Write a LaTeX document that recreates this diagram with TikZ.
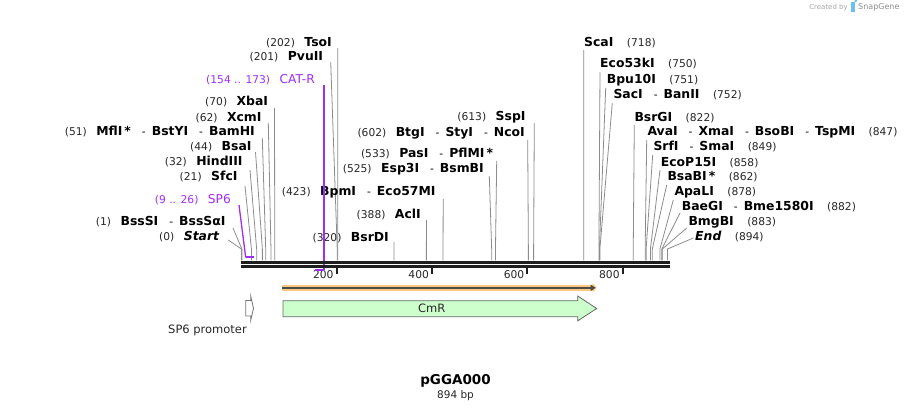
\documentclass[tikz,border=0pt]{standalone}
\usepackage{fontspec}
\setmainfont{DejaVu Sans}
\usetikzlibrary{arrows.meta}
\definecolor{primer}{RGB}{160,45,245}
\definecolor{cutgray}{RGB}{140,140,140}
\definecolor{axisblk}{RGB}{30,30,30}
\definecolor{cmrgreen}{RGB}{204,255,204}
\definecolor{orfband}{RGB}{252,200,125}
\definecolor{snapblue}{RGB}{110,190,240}
\newcommand\myNum{\fontsize{10.7}{12}\selectfont\mdseries\upshape}
\newcommand\myName{\fontsize{12.4}{14}\selectfont\bfseries}
\newcommand\msep{\hspace{11pt}{\myNum -}\hspace{6pt}}
\tikzset{
  declare function={bx(\b)=241.4+0.4767*\b;},
  lbl/.style={inner sep=0pt, text=black},
  cutline/.style={draw=cutgray, line width=0.8pt},
  primerline/.style={draw=primer, line width=1.3pt},
  axisline/.style={draw=axisblk, line width=3pt},
  tickmark/.style={draw=axisblk, line width=2pt},
}
% left-hand label: id, text right x, text centre y, number, names, line top x, line top y, bp
\newcommand\cutL[8]{%
  \node[lbl, anchor=base east] (#1) at (#2,#3+4.3) {{\myNum\color{black!85}(#4)}\hspace{9.5pt}{\myName #5}};
  \coordinate (#1-t) at (#6,#7);
  \coordinate (#1-b) at ({bx(#8)},249);
  \coordinate (#1-a) at ({bx(#8)},260.5);
  \draw[cutline] (#1-t) -- (#1-b) -- (#1-a);
}
% right-hand label
\newcommand\cutR[8]{%
  \node[lbl, anchor=base west] (#1) at (#2,#3+4.3) {{\myName #5}\hspace{13.5pt}{\myNum\color{black!85}(#4)}};
  \coordinate (#1-t) at (#6,#7);
  \coordinate (#1-b) at ({bx(#8)},249);
  \coordinate (#1-a) at ({bx(#8)},260.5);
  \draw[cutline] (#1-t) -- (#1-b) -- (#1-a);
}
\begin{document}
\begin{tikzpicture}[x=1pt,y=-1pt]
\useasboundingbox (0,0) rectangle (911,411);

% ---- cut sites, left side ----
\cutL{tso}{332}{42}{202}{TsoI}{337.7}{48}{202}
\cutL{pvu}{323.3}{56.7}{201}{PvuII}{330.7}{62}{201}
\cutL{xba}{268.3}{101.7}{70}{XbaI}{274.5}{108}{70}
\cutL{xcm}{261.7}{117.3}{62}{XcmI}{268.3}{123}{62}
\cutL{mfl}{255}{131.7}{51}{MflI\,*\msep BstYI\msep BamHI}{262.3}{138}{51}
\cutL{bsa}{251.7}{146.7}{44}{BsaI}{255.5}{152}{44}
\cutL{hind}{242.7}{161.7}{32}{HindIII}{250}{170}{32}
\cutL{sfc}{237.7}{176.7}{21}{SfcI}{245}{186}{21}
\cutL{bss}{225.7}{221}{1}{BssSI\msep BssSαI}{233}{228}{1}
\cutL{start}{219.3}{236.7}{0}{\itshape Start}{228.3}{240}{0}

% ---- cut sites, middle ----
\cutL{bsrd}{389}{237}{320}{BsrDI}{394}{242}{320}
\cutL{acl}{421}{214}{388}{AclI}{426.5}{220}{388}
\cutL{bpm}{435.7}{191.7}{423}{BpmI\msep Eco57MI}{443.2}{199}{423}
\cutL{esp}{484}{168.3}{525}{Esp3I\msep BsmBI}{489.3}{176}{525}
\cutL{pas}{493.3}{153.3}{533}{PasI\msep PflMI\,*}{496.7}{161}{533}
\cutL{btg}{525}{132.3}{602}{BtgI\msep StyI\msep NcoI}{527.7}{140}{602}
\cutL{ssp}{525.7}{116.7}{613}{SspI}{534.3}{123}{613}

% ---- cut sites, right side ----
\cutR{sca}{584}{42.3}{718}{ScaI}{583.7}{50}{718}
\cutR{ecofk}{600}{63.3}{750}{Eco53kI}{600}{72}{750}
\cutR{bpu}{606.7}{79}{751}{Bpu10I}{605.7}{88}{751}
\cutR{sac}{613.3}{94}{752}{SacI\msep BanII}{612.3}{103}{752}
\cutR{bsrg}{634.3}{117.3}{822}{BsrGI}{634.3}{125}{822}
\cutR{ava}{647.3}{131.7}{847}{AvaI\msep XmaI\msep BsoBI\msep TspMI}{646.7}{140}{847}
\cutR{srf}{653.3}{146.7}{849}{SrfI\msep SmaI}{652.7}{155}{849}
\cutR{ecop}{660.7}{162.3}{858}{EcoP15I}{660}{170}{858}
\cutR{bsab}{667.3}{176.7}{862}{BsaBI\,*}{666.7}{185}{862}
\cutR{apa}{674.3}{191.7}{878}{ApaLI}{673.3}{200}{878}
\cutR{bae}{681.7}{206.7}{882}{BaeGI\msep Bme1580I}{680}{213}{882}
\cutR{bmg}{688.3}{221.7}{883}{BmgBI}{686.7}{228}{883}
\cutR{endl}{695}{236.7}{894}{\itshape End}{693.3}{238}{894}

% ---- primers ----
\node[lbl, anchor=base east, text=primer] (catr) at (315,83.3) {{\myNum(154 .. 173)}\hspace{9.5pt}{\fontsize{12.2}{14}\selectfont CAT-R}};
\coordinate (catr-t) at ({bx(173)},85);
\coordinate (catr-r) at ({bx(173)},270.5);
\coordinate (catr-l) at ({bx(154)},270.5);
\draw[primerline] (catr-t) -- (catr-r);
\node[lbl, anchor=base east, text=primer] (sp6) at (231,203.3) {{\myNum(9 .. 26)}\hspace{9.5pt}{\fontsize{12.2}{14}\selectfont SP6}};
\coordinate (sp6-t) at (239,205);
\coordinate (sp6-l) at ({bx(9)},257.5);
\coordinate (sp6-r) at ({bx(26)},257.5);
\draw[primerline] (sp6-t) -- (sp6-l);

% ---- sequence axis ----
\coordinate (axL1) at (241,262.2);
\coordinate (axR1) at (670,262.2);
\coordinate (axL2) at (241,266.5);
\coordinate (axR2) at (670,266.5);
\draw[axisline] (axL1) -- (axR1);
\draw[axisline] (axL2) -- (axR2);
\foreach \t in {200,400,600,800}{
  \coordinate (tk\t-a) at ({bx(\t)},267);
  \coordinate (tk\t-b) at ({bx(\t)},274.3);
  \draw[tickmark] (tk\t-a) -- (tk\t-b);
  \node[lbl, anchor=east, text=black!85] (tl\t) at ({bx(\t)-3},275) {\myNum\t};
}
\draw[draw=primer, line width=2pt] (catr-l) -- (catr-r);
\draw[draw=primer, line width=2pt] (sp6-l) -- (sp6-r);

% ---- ORF band ----
\coordinate (orfL) at (282.3,287.8);
\coordinate (orfR) at (596.7,287.8);
\draw[draw=orfband, line width=5.5pt, -{Triangle[length=4pt,width=9pt]}] (orfL) -- (orfR);
\draw[draw=black!70, line width=2pt, -{Triangle[length=5pt,width=6pt]}] (orfL) -- ([xshift=-1pt]orfR);

% ---- CmR feature ----
\draw[draw=black!60, fill=cmrgreen, line width=0.8pt]
  (283,300.7) -- (577.7,300.7) -- (577.7,296) -- (596.7,308.5) -- (577.7,320.9)
  -- (577.7,316.7) -- (283,316.7) -- cycle;
\node[lbl, text=black!85] (cmr) at (431.7,308.5) {\fontsize{11.5}{13}\selectfont CmR};

% ---- SP6 promoter feature ----
\draw[draw=black!55, fill=white, line width=0.8pt]
  (245.7,300.5) -- (250.7,300.5) -- (250.7,296) -- (253.5,308.3) -- (250.7,320.5)
  -- (250.7,316) -- (245.7,316) -- cycle;
\node[lbl, text=black!85] (sp6p) at (207.5,330) {\fontsize{11.5}{13}\selectfont SP6 promoter};

% ---- title ----
\node[lbl] (title) at (455.5,381) {\fontsize{13.5}{15}\selectfont\bfseries pGGA000};
\node[lbl, text=black!85] (size) at (455.5,395.5) {\fontsize{10.5}{12}\selectfont 894 bp};

% ---- watermark ----
\node[lbl, anchor=east, text=black!35] (cb) at (848,7.5) {\fontsize{7}{8}\selectfont Created by};
\fill[snapblue] (851,2.5) rectangle (854.5,12.5);
\fill[snapblue] (854.5,2.5) arc (90:-90:2.6) -- cycle;
\node[lbl, anchor=west, text=black!45] (sg) at (858,7.5) {\fontsize{8}{9}\selectfont SnapGene};
\end{tikzpicture}
\end{document}
